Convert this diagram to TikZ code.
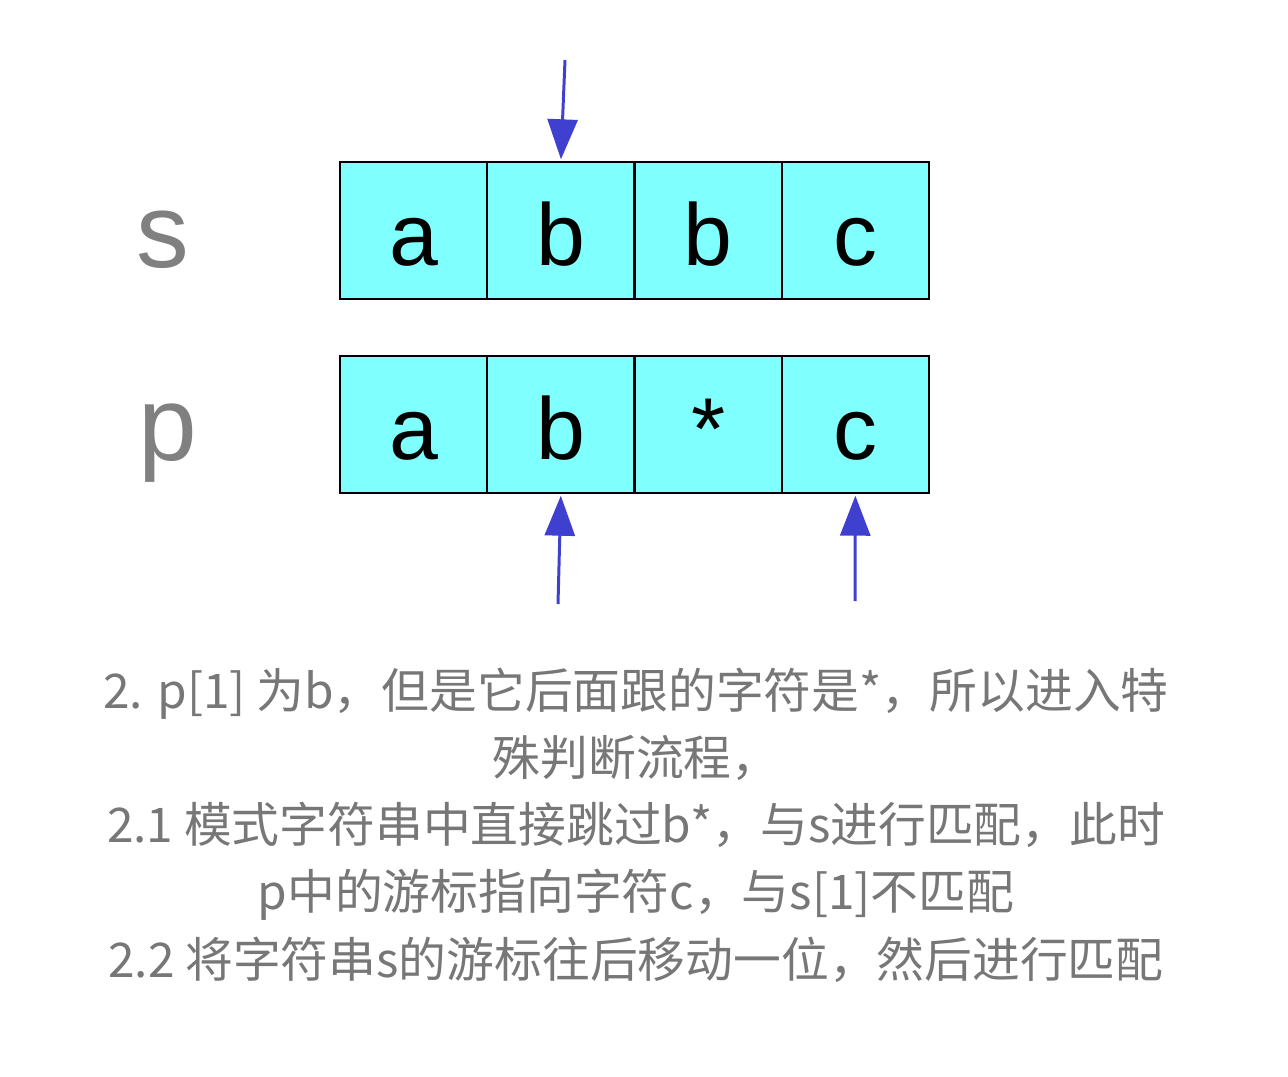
\documentclass[tikz,border=0pt]{standalone}
\usepackage{fontspec}
\setmainfont{Liberation Sans}
\newfontfamily\cjk{Noto Sans CJK SC}
\usetikzlibrary{arrows.meta, positioning}
\definecolor{cellfill}{HTML}{80FFFF}
\definecolor{pointer}{HTML}{4040D0}
\definecolor{labelgray}{HTML}{808080}
\definecolor{notegray}{HTML}{777777}

\begin{document}
\begin{tikzpicture}[x=0.02cm, y=-0.02cm,
        cell/.style={rectangle, draw=black, line width=1.1pt, fill=cellfill, minimum width=2.94cm, minimum height=2.74cm, inner sep=0pt, text height=1.38cm, text depth=0pt, font=\fontsize{50}{50}\selectfont},
        rowlabel/.style={text=labelgray, inner sep=0pt, font=\fontsize{60}{60}\selectfont},
        cursor/.style={-{Triangle[length=0.8cm, width=0.6cm]}, line width=1.7pt, draw=pointer, fill=pointer, shorten >=1pt},
        note/.style={text=notegray, align=center, inner sep=0pt, font=\cjk\fontsize{27.2}{38.3}\selectfont}
    ]
        \useasboundingbox (0,0) rectangle (1288,1076);

        % ROW S
        \node[rowlabel] (slabel) at (163,240) {s};
        \foreach \ch [count=\i] in {a,b,b,c}
            \node[cell] (s\i) at ({340+147.25*(\i-0.5)},230.5) {\ch};

        % ROW P
        \node[rowlabel] (plabel) at (168,443) {p};
        \foreach \ch [count=\i] in {a,b,*,c}
            \node[cell] (p\i) at ({340+147.25*(\i-0.5)},424.5) {\ch};

        % CURSORS
        \coordinate (stail) at (565,60);
        \coordinate (ptail) at (558,604);
        \coordinate (ctail) at (855,601);
        \draw[cursor] (stail) -- (s2.north);
        \draw[cursor] (ptail) -- (p2.south);
        \draw[cursor] (ctail) -- (p4.south);

        % NOTE
        \node[note] (caption) at (636,825) {2. p[1] 为b，但是它后面跟的字符是*，所以进入特\\殊判断流程，\\2.1 模式字符串中直接跳过b*，与s进行匹配，此时\\p中的游标指向字符c，与s[1]不匹配\\2.2 将字符串s的游标往后移动一位，然后进行匹配};

    \end{tikzpicture}
\end{document}
